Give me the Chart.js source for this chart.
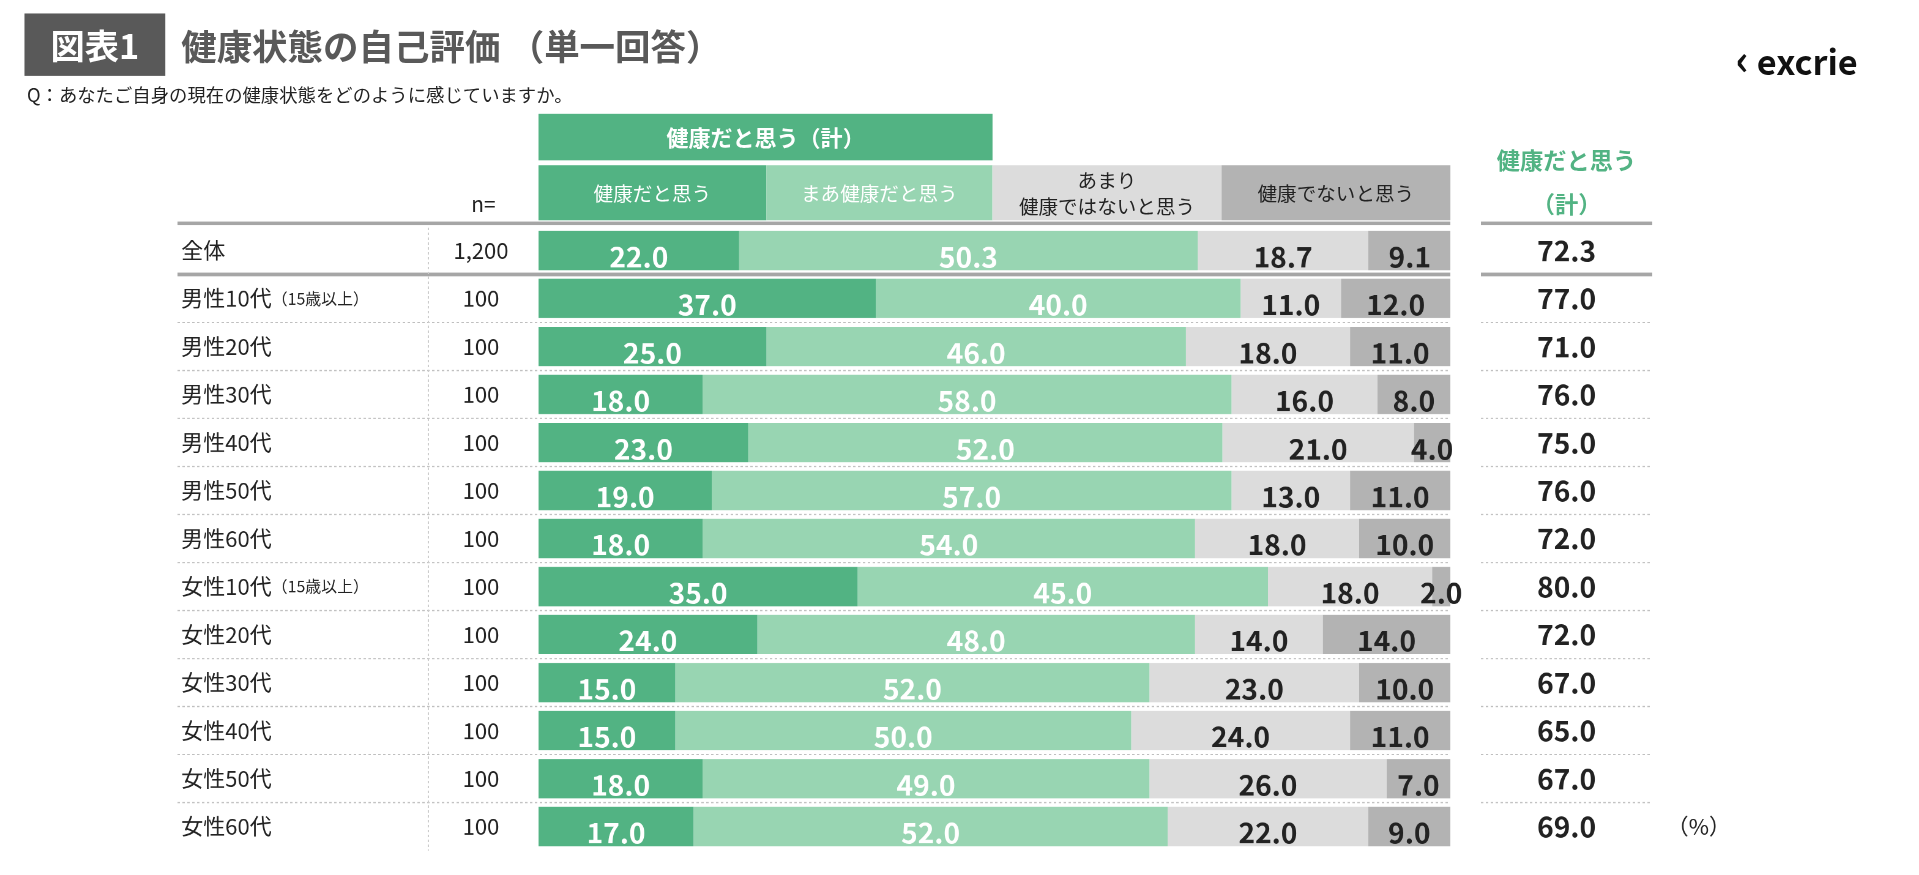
<!DOCTYPE html>
<html><head><meta charset="utf-8">
<script src="https://cdn.jsdelivr.net/npm/chart.js@4"></script>
<style>
html,body{margin:0;padding:0;background:#fff;width:1919px;height:875px;overflow:hidden}
#wrap{position:relative;width:1568px;height:715px;transform:scale(1.2239);transform-origin:0 0;font-family:"Noto Sans CJK JP","Noto Sans",sans-serif;color:#222}
.abs{position:absolute}
#tbox{left:20px;top:11px;width:115px;height:51px;background:#595959;color:#fff;font-size:28px;font-weight:bold;line-height:51px;text-align:center}
#title{left:148px;top:11px;font-size:29px;font-weight:bold;color:#595959;line-height:51px}
#q{left:22px;top:66px;font-size:15px}
#logo{left:1418px;top:22px;font-size:28px;font-weight:bold;color:#111}
.hd{font-size:16px;text-align:center;display:flex;align-items:center;justify-content:center;line-height:1.3}
#c{position:absolute;left:0;top:0}
</style></head><body>
<div id="wrap">
<div class="abs" id="tbox">図表1</div>
<div class="abs" id="title">健康状態の自己評価 （単一回答）</div>
<div class="abs" id="q">Q：あなたご自身の現在の健康状態をどのように感じていますか。</div>
<div class="abs" id="logo"><span style="font-size:34px">&#x2039;</span> excrie</div>
<div class="abs hd" style="left:440px;top:93px;width:371px;height:38px;background:#52b383;color:#fff;font-weight:bold;font-size:18px">健康だと思う（計）</div>
<div class="abs hd" style="left:440px;top:135px;width:186px;height:45px;background:#52b383;color:#fff">健康だと思う</div>
<div class="abs hd" style="left:626px;top:135px;width:185px;height:45px;background:#98d5b2;color:#fff">まあ健康だと思う</div>
<div class="abs hd" style="left:811px;top:135px;width:187px;height:45px;background:#dcdcdc">あまり<br>健康ではないと思う</div>
<div class="abs hd" style="left:998px;top:135px;width:187px;height:45px;background:#b3b3b3">健康でないと思う</div>
<div class="abs" style="left:385px;top:153px;font-size:17px">n=</div>
<div class="abs hd" style="left:1200px;top:112px;width:160px;color:#52b383;font-weight:bold;font-size:19px;line-height:36px">健康だと思う<br>（計）</div>
<canvas id="c" width="1568" height="715"></canvas>
</div>
<script>
const categories = ['全体','男性10代','男性20代','男性30代','男性40代','男性50代','男性60代','女性10代','女性20代','女性30代','女性40代','女性50代','女性60代'];
const notes = ['','（15歳以上）','','','','','','（15歳以上）','','','','',''];
const nValues = ['1,200','100','100','100','100','100','100','100','100','100','100','100','100'];
const healthy = [22.0,37.0,25.0,18.0,23.0,19.0,18.0,35.0,24.0,15.0,15.0,18.0,17.0];
const fairly = [50.3,40.0,46.0,58.0,52.0,57.0,54.0,45.0,48.0,52.0,50.0,49.0,52.0];
const notVery = [18.7,11.0,18.0,16.0,21.0,13.0,18.0,18.0,14.0,23.0,24.0,26.0,22.0];
const notHealthy = [9.1,12.0,11.0,8.0,4.0,11.0,10.0,2.0,14.0,10.0,11.0,7.0,9.0];
const totals = [72.3,77.0,71.0,76.0,75.0,76.0,72.0,80.0,72.0,67.0,65.0,67.0,69.0];

const FONT = '"Noto Sans CJK JP","Noto Sans",sans-serif';
const tablePlugin = {
  id: 'table',
  afterDatasetsDraw(chart) {
    const ctx = chart.ctx, y = chart.scales.y;
    const step = y.getPixelForValue(1) - y.getPixelForValue(0);
    ctx.save();
    chart.data.datasets.forEach((ds, di) => {
      chart.getDatasetMeta(di).data.forEach((bar, i) => {
        ctx.fillStyle = di < 2 ? '#fff' : '#222';
        ctx.font = 'bold 23px ' + FONT;
        ctx.textAlign = 'center'; ctx.textBaseline = 'middle';
        ctx.fillText(ds.data[i].toFixed(1), (bar.x + bar.base) / 2, bar.y + 5);
      });
    });
    categories.forEach((c, i) => {
      const cy = y.getPixelForValue(i);
      ctx.fillStyle = '#222'; ctx.textBaseline = 'middle'; ctx.textAlign = 'left';
      ctx.font = '18px ' + FONT;
      ctx.fillText(c, 148, cy);
      if (notes[i]) {
        const w = ctx.measureText(c).width;
        ctx.font = '13px ' + FONT;
        ctx.fillText(notes[i], 148 + w, cy);
      }
      ctx.font = '18px ' + FONT; ctx.textAlign = 'center';
      ctx.fillText(nValues[i], 393, cy);
      ctx.font = 'bold 23px ' + FONT;
      ctx.fillText(totals[i].toFixed(1), 1280, cy);
      const ly = cy + step / 2;
      if (i === 0) {
        ctx.fillStyle = '#a6a6a6';
        ctx.fillRect(145, cy - step / 2 - 4, 1040, 3);
        ctx.fillRect(1210, cy - step / 2 - 4, 140, 3);
        ctx.fillRect(145, ly - 1.5, 1040, 3);
        ctx.fillRect(1210, ly - 1.5, 140, 3);
      } else if (i < categories.length - 1) {
        ctx.strokeStyle = '#bfbfbf'; ctx.lineWidth = 1; ctx.setLineDash([2, 2]);
        ctx.beginPath();
        ctx.moveTo(145, ly); ctx.lineTo(1185, ly);
        ctx.moveTo(1210, ly); ctx.lineTo(1350, ly);
        ctx.stroke();
      }
    });
    ctx.strokeStyle = '#cccccc'; ctx.setLineDash([2, 2]); ctx.lineWidth = 1;
    ctx.beginPath(); ctx.moveTo(350, 186); ctx.lineTo(350, 695); ctx.stroke();
    ctx.setLineDash([]);
    ctx.fillStyle = '#222'; ctx.font = '18px ' + FONT; ctx.textAlign = 'center';
    ctx.fillText('（%）', 1388, y.getPixelForValue(categories.length - 1));
    ctx.restore();
  }
};

new Chart(document.getElementById('c'), {
  type: 'bar',
  data: {
    labels: categories,
    datasets: [
      { data: healthy, backgroundColor: '#52b383' },
      { data: fairly, backgroundColor: '#98d5b2' },
      { data: notVery, backgroundColor: '#dcdcdc' },
      { data: notHealthy, backgroundColor: '#b3b3b3' }
    ]
  },
  options: {
    indexAxis: 'y',
    responsive: false,
    animation: false,
    devicePixelRatio: 2,
    layout: { padding: { left: 440, right: 383, top: 185, bottom: 20 } },
    categoryPercentage: 0.82,
    barPercentage: 1,
    scales: {
      x: { stacked: true, min: 0, max: 100, display: false },
      y: { stacked: true, display: false }
    },
    plugins: { legend: { display: false }, tooltip: { enabled: false } }
  },
  plugins: [tablePlugin]
});
</script>
</body></html>
